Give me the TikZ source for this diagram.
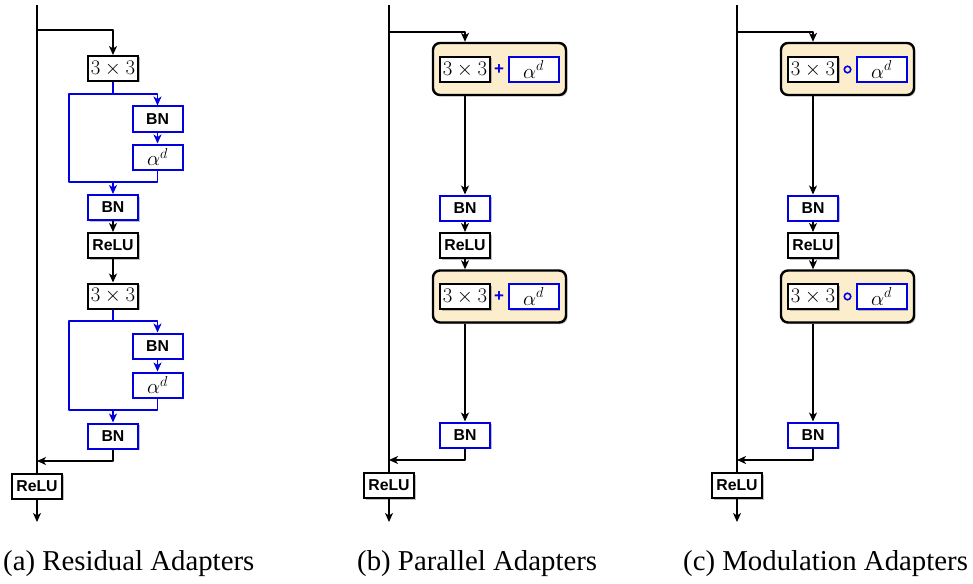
\documentclass[tikz,border=0pt]{standalone}
\usepackage{fontspec}
\setmainfont{Liberation Serif}
\setsansfont{Liberation Sans}
\newfontfamily\capfont{Liberation Serif}
\usetikzlibrary{arrows.meta,shadows}

\tikzset{
  conn/.style={BLACK, line width=1.4, line join=round, >={Stealth[length=9pt,width=8pt,inset=2.5pt]}},
  bconn/.style={conn, BLUE},
  lshadow/.style={drop shadow={shadow xshift=1.5pt, shadow yshift=-1.5pt, fill=black, opacity=0.25}},
  layer/.style={draw=BLACK, line width=2, fill=WHITE, minimum width=50, minimum height=25, inner sep=0, lshadow},
  mathlayer/.style={layer, font=\fontsize{20}{22}\selectfont},
  textlayer/.style={layer, font=\sffamily\bfseries\fontsize{15.8}{18}\selectfont},
  bnlayer/.style={textlayer, draw=BLUE},
  alphalayer/.style={mathlayer, draw=BLUE},
  adapter/.style={draw=BLACK, line width=2.4, fill=ORANGE, rounded corners=7, minimum width=133, minimum height=52, inner sep=0, lshadow},
  plusop/.style={BLUE, font=\sffamily\bfseries\fontsize{17}{17}\selectfont, inner sep=0},
  circop/.style={circle, draw=BLUE, line width=1.6, minimum size=6.5, inner sep=0},
  caption/.style={anchor=base west, font=\capfont\fontsize{28.8}{32}\selectfont, inner sep=0}
}

\begin{document}
\begin{tikzpicture}[x=1pt,y=-1pt]

\definecolor{BLACK}{RGB}{0,0,0}
\definecolor{WHITE}{RGB}{255,255,255}
\definecolor{BLUE}{RGB}{0,0,225}
\definecolor{ORANGE}{RGB}{252,237,205}
\useasboundingbox (0,0) rectangle (973,583);

\coordinate (a-top) at (37,5);
\coordinate (a-fork) at (37,30);
\coordinate (a-l1) at (69,94);
\coordinate (a-j1) at (69,182);
\coordinate (a-l2) at (69,321);
\coordinate (a-j2) at (69,410);
\coordinate (a-merge) at (37,461);
\coordinate (a-end) at (37,522);
\node[mathlayer] (aconv1) at (113,68.5) {$3\times3$};
\node[bnlayer] (abnr1) at (157.5,119) {BN};
\node[alphalayer] (aalpha1) at (157.5,157) {$\alpha^d$};
\node[bnlayer] (abn1) at (113,207.5) {BN};
\node[textlayer] (arelu1) at (113,245.5) {ReLU};
\node[mathlayer] (aconv2) at (113,296) {$3\times3$};
\node[bnlayer] (abnr2) at (157.5,346) {BN};
\node[alphalayer] (aalpha2) at (157.5,385) {$\alpha^d$};
\node[bnlayer] (abn2) at (113,436) {BN};
\node[textlayer] (arelu) at (37,486) {ReLU};
\draw[conn] (a-top) -- (arelu);
\draw[conn,->] (a-fork) -| (aconv1);
\draw[bconn] (aconv1) |- (a-l1) |- (aalpha1 |- a-j1) -- (aalpha1);
\draw[bconn,->] (aconv1 |- a-l1) -| (abnr1);
\draw[bconn,->] (abnr1) -- (aalpha1);
\draw[bconn,->] (aconv1 |- a-j1) -- (abn1);
\draw[conn,->] (abn1) -- (arelu1);
\draw[conn,->] (arelu1) -- (aconv2);
\draw[bconn] (aconv2) |- (a-l2) |- (aalpha2 |- a-j2) -- (aalpha2);
\draw[bconn,->] (aconv2 |- a-l2) -| (abnr2);
\draw[bconn,->] (abnr2) -- (aalpha2);
\draw[bconn,->] (aconv2 |- a-j2) -- (abn2);
\draw[conn,->] (abn2) |- (a-merge);
\draw[conn,->] (arelu) -- (a-end);

\coordinate (b-top) at (389,5);
\coordinate (b-fork) at (389,32);
\coordinate (b-merge) at (389,460);
\coordinate (b-end) at (389,522);
\node[adapter] (bpar1) at (499.5,69) {};
\node[mathlayer] (bconv1) at (465,69.5) {$3\times3$};
\node[plusop] (bplus1) at (499,69.5) {+};
\node[alphalayer] (balpha1) at (533.5,69.5) {$\alpha^d$};
\node[bnlayer] (bbn1) at (465,208) {BN};
\node[textlayer] (brelu1) at (465,245.5) {ReLU};
\node[adapter] (bpar2) at (499.5,296.5) {};
\node[mathlayer] (bconv2) at (465,296.5) {$3\times3$};
\node[plusop] (bplus2) at (499,296.5) {+};
\node[alphalayer] (balpha2) at (533.5,296.5) {$\alpha^d$};
\node[bnlayer] (bbn2) at (465,435) {BN};
\node[textlayer] (brelu) at (389,485.5) {ReLU};
\draw[conn] (b-top) -- (brelu);
\draw[conn,->] (b-fork) -| (bconv1 |- bpar1.north);
\draw[conn,->] (bconv1 |- bpar1.south) -- (bbn1);
\draw[conn,->] (bbn1) -- (brelu1);
\draw[conn,->] (brelu1) -- (bconv2 |- bpar2.north);
\draw[conn,->] (bconv2 |- bpar2.south) -- (bbn2);
\draw[conn,->] (bbn2) |- (b-merge);
\draw[conn,->] (brelu) -- (b-end);

\coordinate (c-top) at (737,5);
\coordinate (c-fork) at (737,32);
\coordinate (c-merge) at (737,460);
\coordinate (c-end) at (737,522);
\node[adapter] (cmod1) at (847.5,69) {};
\node[mathlayer] (cconv1) at (813,69.5) {$3\times3$};
\node[circop] (ccirc1) at (847.5,69.5) {};
\node[alphalayer] (calpha1) at (881.5,69.5) {$\alpha^d$};
\node[bnlayer] (cbn1) at (813,208) {BN};
\node[textlayer] (crelu1) at (813,245.5) {ReLU};
\node[adapter] (cmod2) at (847.5,296.5) {};
\node[mathlayer] (cconv2) at (813,296.5) {$3\times3$};
\node[circop] (ccirc2) at (847.5,296.5) {};
\node[alphalayer] (calpha2) at (881.5,296.5) {$\alpha^d$};
\node[bnlayer] (cbn2) at (813,435) {BN};
\node[textlayer] (crelu) at (737,485.5) {ReLU};
\draw[conn] (c-top) -- (crelu);
\draw[conn,->] (c-fork) -| (cconv1 |- cmod1.north);
\draw[conn,->] (cconv1 |- cmod1.south) -- (cbn1);
\draw[conn,->] (cbn1) -- (crelu1);
\draw[conn,->] (crelu1) -- (cconv2 |- cmod2.north);
\draw[conn,->] (cconv2 |- cmod2.south) -- (cbn2);
\draw[conn,->] (cbn2) |- (c-merge);
\draw[conn,->] (crelu) -- (c-end);

\node[caption] (capa) at (3,570) {(a) Residual Adapters};
\node[caption] (capb) at (357,570) {(b) Parallel Adapters};
\node[caption] (capc) at (683,570) {(c) Modulation Adapters};
\end{tikzpicture}
\end{document}
